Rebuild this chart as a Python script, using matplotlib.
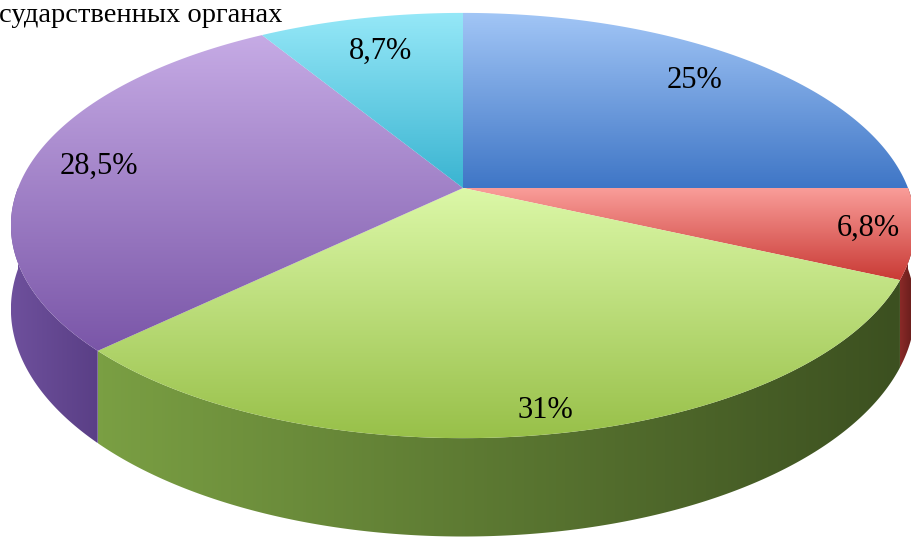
import numpy as np
import matplotlib
matplotlib.use('Agg')
import matplotlib.pyplot as plt
from matplotlib.patches import Polygon
from matplotlib.colors import LinearSegmentedColormap

# data, clockwise from 12 o'clock
labels = ['25%', '6,8%', '31%', '28,5%', '8,7%']
values = [25, 6.8, 31, 28.5, 8.7]
title = 'сударственных органах'

top_colors = [('#a2c6f6', '#3f76c6'),
              ('#fa9e9a', '#c93a35'),
              ('#dcf8a8', '#98c049'),
              ('#c6abe5', '#7a56a8'),
              ('#96e8f8', '#3ab4d1')]
side_colors = [('#3a62a0', '#2c4c80'),
               ('#8a2a28', '#5e1a18'),
               ('#7a9f43', '#3c5020'),
               ('#6e509c', '#5a3f86'),
               ('#2f9ab4', '#247a90')]
label_r = [0.81, 0.9, 0.92, 0.84, 0.78]

cx, cy = 463, 188
rx, ry = 445, 206
persp = 0.1765
depth = 81


def proj(theta, h=0.0, r=1.0):
    X = r * np.sin(theta)
    Y = r * np.cos(theta)
    s = 1.0 / (1.0 + persp * Y)
    return cx + rx * X * s, cy - ry * Y * s + h * s


def grad_fill(ax, xs, ys, c1, c2, vertical=True, z=1):
    poly = Polygon(np.column_stack([xs, ys]), closed=True, fill=False,
                   edgecolor='none', zorder=z)
    ax.add_patch(poly)
    cmap = LinearSegmentedColormap.from_list('g', [c1, c2])
    g = np.linspace(0, 1, 256)
    arr = g[:, None] if vertical else g[None, :]
    im = ax.imshow(arr, cmap=cmap, extent=(min(xs), max(xs), max(ys), min(ys)),
                   origin='upper', aspect='auto', zorder=z, interpolation='bilinear')
    im.set_clip_path(poly)


fig = plt.figure(figsize=(9.11, 5.42), dpi=100)
ax = fig.add_axes([0, 0, 1, 1])

fr = np.array(values) / sum(values)
bounds = np.concatenate([[0], np.cumsum(fr)]) * 2 * np.pi

# sides (front half only)
for i in range(len(values)):
    a0 = max(bounds[i], np.pi / 2)
    a1 = min(bounds[i + 1], 3 * np.pi / 2)
    if a1 <= a0:
        continue
    t = np.linspace(a0, a1, 200)
    xt, yt = proj(t)
    xb, yb = proj(t[::-1], depth)
    xs = np.concatenate([xt, xb])
    ys = np.concatenate([yt, yb])
    grad_fill(ax, xs, ys, side_colors[i][0], side_colors[i][1], vertical=False, z=1)

# tops
for i in range(len(values)):
    t = np.linspace(bounds[i], bounds[i + 1], 200)
    xt, yt = proj(t)
    xs = np.concatenate([[cx], xt])
    ys = np.concatenate([[cy], yt])
    grad_fill(ax, xs, ys, top_colors[i][0], top_colors[i][1], vertical=True, z=2)

# labels
for i, lab in enumerate(labels):
    mid = (bounds[i] + bounds[i + 1]) / 2
    lx, ly = proj(mid, r=label_r[i])
    ax.text(lx, ly, lab, ha='center', va='center', fontsize=22,
            family='Liberation Serif', color='black', zorder=5)

ax.text(-1, 16, title, ha='left', va='center', fontsize=20.5,
        family='Liberation Serif', color='black', zorder=5)

ax.set_xlim(0, 911)
ax.set_ylim(542, 0)
ax.axis('off')
fig.savefig('out.png', dpi=100)
